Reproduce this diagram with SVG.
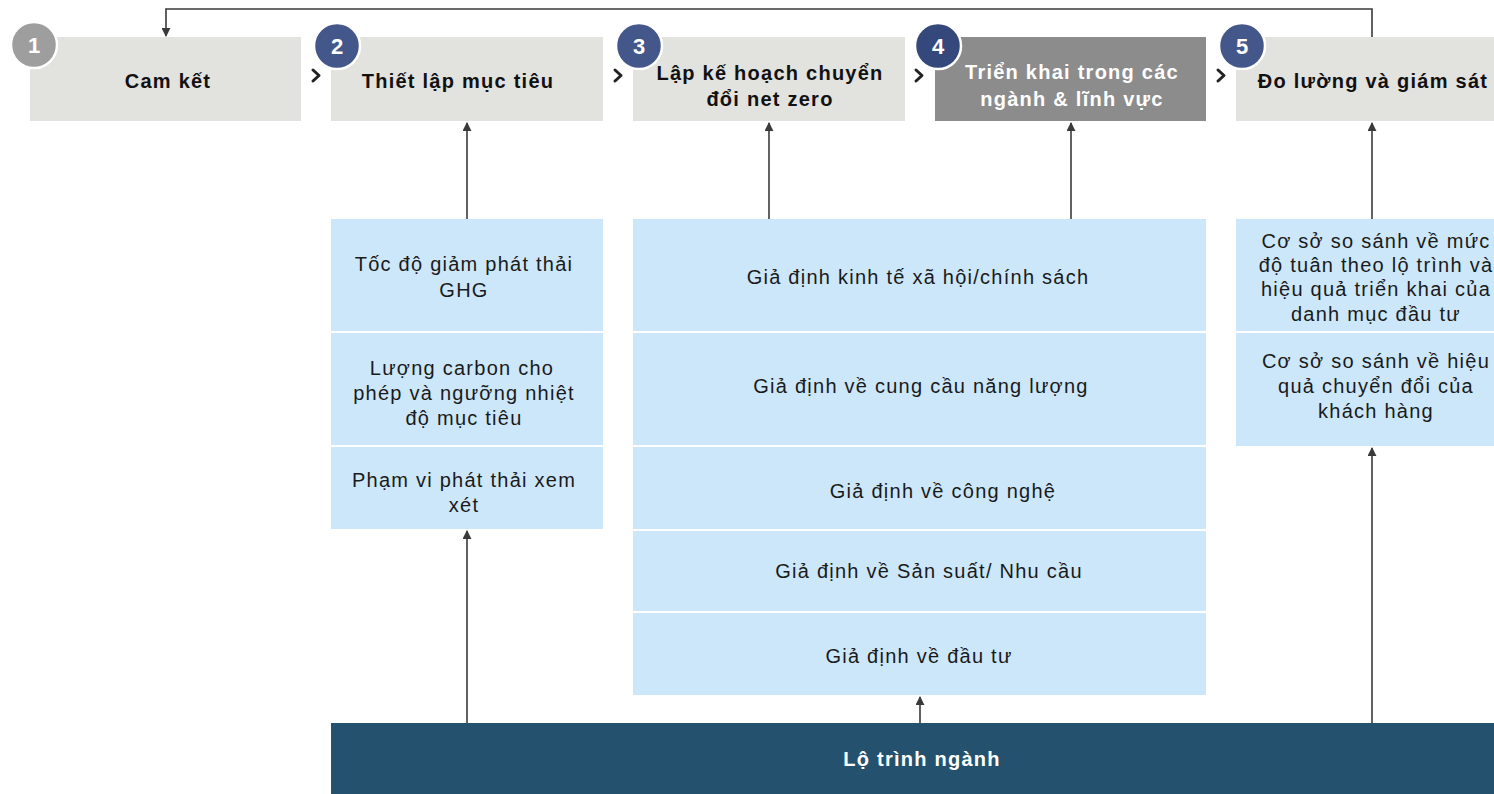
<svg xmlns="http://www.w3.org/2000/svg" width="1494" height="794" viewBox="0 0 1494 794">
  <style>
    .step { fill: #e2e2df; }
    .step-active { fill: #8c8c8c; }
    .cell { fill: #cce7fa; }
    .bar { fill: #24526e; }
    .title { font-family: "Liberation Sans", Arial, sans-serif; font-size: 20px; letter-spacing: 1.25px; font-weight: bold; fill: #111; text-anchor: middle; }
    .title-light { fill: #ffffff; }
    .body { font-family: "Liberation Sans", Arial, sans-serif; font-size: 20px; letter-spacing: 1.25px; fill: #1a1a1a; text-anchor: middle; }
    .badge { stroke: #ffffff; stroke-width: 2.5; }
    .badge-num { font-family: "Liberation Sans", Arial, sans-serif; font-size: 22px; font-weight: bold; fill: #ffffff; text-anchor: middle; }
    .chev { fill: none; stroke: #222; stroke-width: 3; stroke-linecap: round; stroke-linejoin: round; }
    .link { fill: none; stroke: #3a3a3a; stroke-width: 1.6; }
  </style>
  <defs>
    <marker id="arrow" viewBox="0 0 10 10" refX="9" refY="5" markerWidth="9" markerHeight="9" markerUnits="userSpaceOnUse" orient="auto">
      <path d="M0,0 L10,5 L0,10 z" fill="#3a3a3a"/>
    </marker>
  </defs>
  <rect width="1494" height="794" fill="#ffffff"/>

  <!-- connectors -->
  <g id="connectors">
    <path class="link" d="M1372,121 V9 H166 V36" marker-end="url(#arrow)"/>
    <path class="link" d="M467,219 V123" marker-end="url(#arrow)"/>
    <path class="link" d="M769,219 V123" marker-end="url(#arrow)"/>
    <path class="link" d="M1071,219 V123" marker-end="url(#arrow)"/>
    <path class="link" d="M1372,219 V123" marker-end="url(#arrow)"/>
    <path class="link" d="M467,723 V531" marker-end="url(#arrow)"/>
    <path class="link" d="M920,723 V697" marker-end="url(#arrow)"/>
    <path class="link" d="M1372,723 V448" marker-end="url(#arrow)"/>
  </g>

  <!-- step chevrons -->
  <g id="chevrons">
    <polyline class="chev" points="313,70 319,75.5 313,81"/>
    <polyline class="chev" points="615,70 621,75.5 615,81"/>
    <polyline class="chev" points="916,70 922,75.5 916,81"/>
    <polyline class="chev" points="1218,70 1224,75.5 1218,81"/>
  </g>

  <!-- process steps -->
  <g id="step1">
    <rect class="step" x="30" y="37" width="271" height="84"/>
    <text class="title" x="168" y="88">Cam kết</text>
    <circle class="badge" cx="34" cy="45" r="23" fill="#9e9e9e"/>
    <text class="badge-num" x="34" y="53">1</text>
  </g>
  <g id="step2">
    <rect class="step" x="331" y="37" width="272" height="84"/>
    <text class="title" x="458" y="88">Thiết lập mục tiêu</text>
    <circle class="badge" cx="337" cy="46" r="23" fill="#44578a"/>
    <text class="badge-num" x="337" y="54">2</text>
  </g>
  <g id="step3">
    <rect class="step" x="633" y="37" width="272" height="84"/>
    <text class="title" x="770" y="80">Lập kế hoạch chuyển</text>
    <text class="title" x="770" y="106">đổi net zero</text>
    <circle class="badge" cx="639" cy="46" r="23" fill="#44578a"/>
    <text class="badge-num" x="639" y="54">3</text>
  </g>
  <g id="step4">
    <rect class="step-active" x="935" y="37" width="271" height="84"/>
    <text class="title title-light" x="1072" y="79">Triển khai trong các</text>
    <text class="title title-light" x="1072" y="106">ngành &amp; lĩnh vực</text>
    <circle class="badge" cx="938" cy="46" r="23" fill="#34487c"/>
    <text class="badge-num" x="938" y="54">4</text>
  </g>
  <g id="step5">
    <rect class="step" x="1236" y="37" width="272" height="84"/>
    <text class="title" x="1373" y="88">Đo lường và giám sát</text>
    <circle class="badge" cx="1242" cy="46" r="23" fill="#44578a"/>
    <text class="badge-num" x="1242" y="54">5</text>
  </g>

  <!-- target-setting inputs -->
  <g id="targets">
    <rect class="cell" x="331" y="219" width="272" height="112"/>
    <text class="body" x="464" y="271">Tốc độ giảm phát thải</text>
    <text class="body" x="464" y="297">GHG</text>
    <rect class="cell" x="331" y="333" width="272" height="112"/>
    <text class="body" x="462" y="375">Lượng carbon cho</text>
    <text class="body" x="464" y="400">phép và ngưỡng nhiệt</text>
    <text class="body" x="464" y="425">độ mục tiêu</text>
    <rect class="cell" x="331" y="447" width="272" height="82"/>
    <text class="body" x="464" y="487">Phạm vi phát thải xem</text>
    <text class="body" x="464" y="512">xét</text>
  </g>

  <!-- planning assumptions -->
  <g id="assumptions">
    <rect class="cell" x="633" y="219" width="573" height="112"/>
    <text class="body" x="918" y="284">Giả định kinh tế xã hội/chính sách</text>
    <rect class="cell" x="633" y="333" width="573" height="112"/>
    <text class="body" x="921" y="393">Giả định về cung cầu năng lượng</text>
    <rect class="cell" x="633" y="447" width="573" height="82"/>
    <text class="body" x="943" y="498">Giả định về công nghệ</text>
    <rect class="cell" x="633" y="531" width="573" height="80"/>
    <text class="body" x="929" y="578">Giả định về Sản suất/ Nhu cầu</text>
    <rect class="cell" x="633" y="613" width="573" height="82"/>
    <text class="body" x="919" y="663">Giả định về đầu tư</text>
  </g>

  <!-- monitoring benchmarks -->
  <g id="benchmarks">
    <rect class="cell" x="1236" y="219" width="272" height="112"/>
    <text class="body" x="1376" y="248">Cơ sở so sánh về mức</text>
    <text class="body" x="1376" y="272">độ tuân theo lộ trình và</text>
    <text class="body" x="1376" y="296">hiệu quả triển khai của</text>
    <text class="body" x="1376" y="321">danh mục đầu tư</text>
    <rect class="cell" x="1236" y="333" width="272" height="113"/>
    <text class="body" x="1376" y="368">Cơ sở so sánh về hiệu</text>
    <text class="body" x="1376" y="393">quả chuyển đổi của</text>
    <text class="body" x="1376" y="418">khách hàng</text>
  </g>

  <!-- sector pathway -->
  <g id="pathway">
    <rect class="bar" x="331" y="723" width="1163" height="71"/>
    <text class="title title-light" x="922" y="766">Lộ trình ngành</text>
  </g>
</svg>
